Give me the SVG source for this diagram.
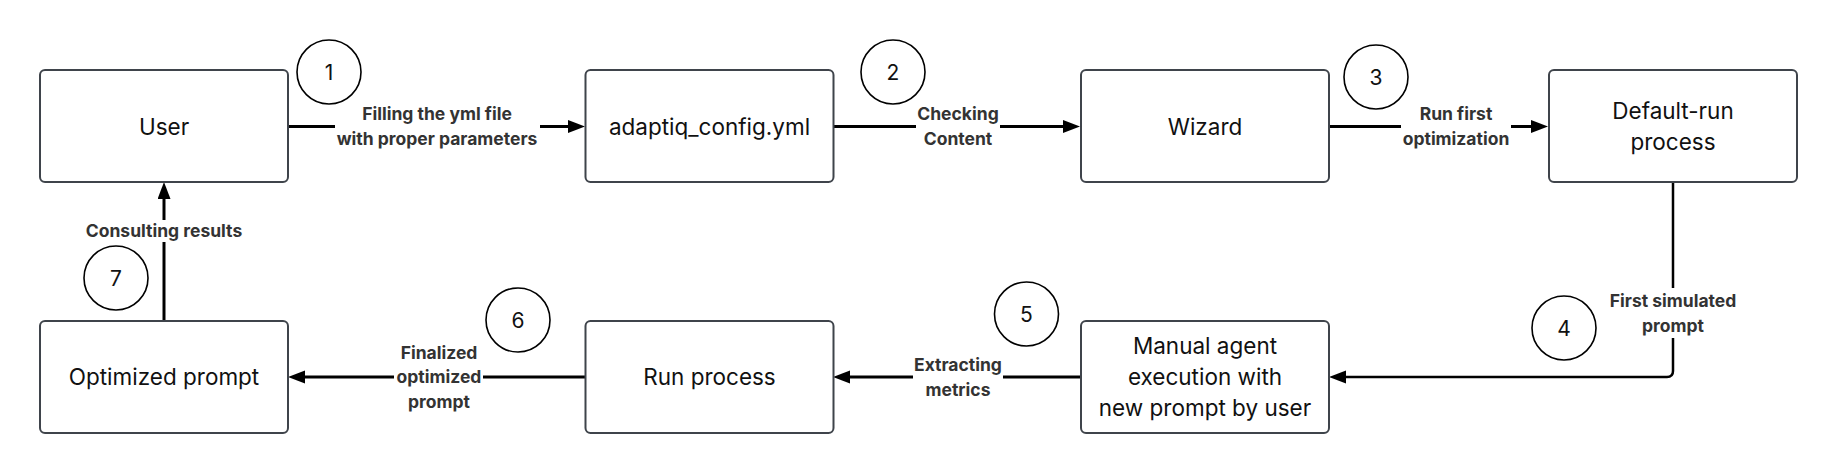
<svg xmlns="http://www.w3.org/2000/svg" width="1837" height="473" viewBox="0 0 1837 473">
  <defs>
    <marker id="arrow" markerUnits="userSpaceOnUse" markerWidth="18" markerHeight="14" refX="0" refY="6.5" orient="auto">
      <path d="M0,0 L17,6.5 L0,13 Z" fill="#000"/>
    </marker>
    <style>
      .node rect { fill: #fff; stroke: #3f444b; stroke-width: 2; }
      .node text { font-family: Inter, "Liberation Sans", sans-serif; font-size: 22.5px; fill: #111; text-anchor: middle; }
      .conn { fill: none; stroke: #000; stroke-width: 3; }
      .conn.thin { stroke-width: 2.5; }
      .lbg { fill: #fff; }
      .lbl { font-family: Inter, "Liberation Sans", sans-serif; font-size: 17.5px; font-weight: 700; fill: #333; text-anchor: middle; }
      .step circle { fill: #fff; stroke: #000; stroke-width: 1.6; }
      .step text { font-family: Inter, "Liberation Sans", sans-serif; font-size: 21px; fill: #111; text-anchor: middle; }
    </style>
  </defs>
  <rect width="1837" height="473" fill="#fff"/>

  <g id="connectors">
    <path class="conn" d="M288,126.5 H568" marker-end="url(#arrow)"/>
    <path class="conn" d="M833,126.5 H1063" marker-end="url(#arrow)"/>
    <path class="conn" d="M1329,126.5 H1531" marker-end="url(#arrow)"/>
    <path class="conn thin" d="M1673,182 V371 Q1673,377 1667,377 H1346" marker-end="url(#arrow)"/>
    <path class="conn" d="M1081,377 H850" marker-end="url(#arrow)"/>
    <path class="conn" d="M585,377 H305" marker-end="url(#arrow)"/>
    <path class="conn" d="M164,321 V199" marker-end="url(#arrow)"/>

    <rect class="lbg" x="335" y="103" width="205" height="48"/>
    <text class="lbl" x="437" y="120">Filling the yml file</text>
    <text class="lbl" x="437" y="144.5">with proper parameters</text>

    <rect class="lbg" x="916" y="103" width="84" height="48"/>
    <text class="lbl" x="958" y="120">Checking</text>
    <text class="lbl" x="958" y="144.5">Content</text>

    <rect class="lbg" x="1401" y="103" width="110" height="48"/>
    <text class="lbl" x="1456" y="120">Run first</text>
    <text class="lbl" x="1456" y="144.5">optimization</text>

    <rect class="lbg" x="1607" y="288" width="132" height="50"/>
    <text class="lbl" x="1673" y="307">First simulated</text>
    <text class="lbl" x="1673" y="331.5">prompt</text>

    <rect class="lbg" x="913" y="353" width="90" height="48"/>
    <text class="lbl" x="958" y="371">Extracting</text>
    <text class="lbl" x="958" y="395.5">metrics</text>

    <rect class="lbg" x="394" y="340" width="89" height="74"/>
    <text class="lbl" x="439" y="358.5">Finalized</text>
    <text class="lbl" x="439" y="383">optimized</text>
    <text class="lbl" x="439" y="407.5">prompt</text>

    <rect class="lbg" x="83" y="220" width="162" height="22"/>
    <text class="lbl" x="164" y="237">Consulting results</text>
  </g>

  <g id="node-user" class="node">
    <rect x="40" y="70" width="248" height="112" rx="5"/>
    <text x="164" y="134.5">User</text>
  </g>
  <g id="node-config" class="node">
    <rect x="585.5" y="70" width="248" height="112" rx="5"/>
    <text x="709.5" y="134.5">adaptiq_config.yml</text>
  </g>
  <g id="node-wizard" class="node">
    <rect x="1081" y="70" width="248" height="112" rx="5"/>
    <text x="1205" y="134.5">Wizard</text>
  </g>
  <g id="node-default-run" class="node">
    <rect x="1549" y="70" width="248" height="112" rx="5"/>
    <text x="1673" y="119">Default-run</text>
    <text x="1673" y="150">process</text>
  </g>
  <g id="node-manual" class="node">
    <rect x="1081" y="321" width="248" height="112" rx="5"/>
    <text x="1205" y="354">Manual agent</text>
    <text x="1205" y="385">execution with</text>
    <text x="1205" y="416">new prompt by user</text>
  </g>
  <g id="node-run" class="node">
    <rect x="585.5" y="321" width="248" height="112" rx="5"/>
    <text x="709.5" y="385">Run process</text>
  </g>
  <g id="node-optimized" class="node">
    <rect x="40" y="321" width="248" height="112" rx="5"/>
    <text x="164" y="385">Optimized prompt</text>
  </g>

  <g id="step-1" class="step"><circle cx="329" cy="72" r="32"/><text x="329" y="79.5">1</text></g>
  <g id="step-2" class="step"><circle cx="893" cy="72" r="32"/><text x="893" y="79.5">2</text></g>
  <g id="step-3" class="step"><circle cx="1376" cy="77" r="32"/><text x="1376" y="84.5">3</text></g>
  <g id="step-4" class="step"><circle cx="1564" cy="328" r="32"/><text x="1564" y="335.5">4</text></g>
  <g id="step-5" class="step"><circle cx="1026.5" cy="314" r="32"/><text x="1026.5" y="321.5">5</text></g>
  <g id="step-6" class="step"><circle cx="518" cy="320" r="32"/><text x="518" y="327.5">6</text></g>
  <g id="step-7" class="step"><circle cx="116" cy="278" r="32"/><text x="116" y="285.5">7</text></g>
</svg>
